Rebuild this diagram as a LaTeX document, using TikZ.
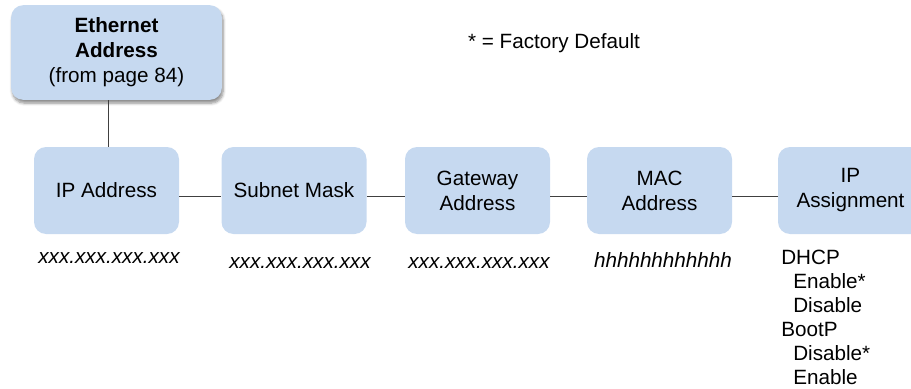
\documentclass[tikz,border=0pt]{standalone}
\usepackage{fontspec}
\setmainfont{Liberation Sans}
\usepackage{tikz}
\usetikzlibrary{shadows,shadows.blur,positioning}
\definecolor{menublue}{RGB}{198,217,240}
\definecolor{linkgray}{RGB}{64,64,64}
\tikzset{
  menubox/.style={rectangle,rounded corners=9pt,fill=menublue,align=center,inner sep=2pt,
                  minimum width=108.75pt,minimum height=65.25pt,font=\fontsize{15.5}{18.75}\selectfont},
  rootbox/.style={menubox,minimum width=158pt,minimum height=71pt,
                  blur shadow={shadow xshift=1pt,shadow yshift=-2.5pt,shadow blur steps=6,shadow opacity=45}},
  vallabel/.style={font=\fontsize{15.5}{18}\selectfont\itshape},
  notelabel/.style={font=\fontsize{15.5}{18}\selectfont},
  optlist/.style={align=left,anchor=north west,inner sep=0pt,font=\fontsize{15.5}{18}\selectfont},
  link/.style={draw=linkgray,line width=0.8pt},
  uplink/.style={draw=linkgray,line width=1.3pt}
}

\begin{document}
\begin{tikzpicture}[x=0.75pt,y=-0.75pt]
  \useasboundingbox (0,0) rectangle (911,389);

  % top of the menu branch
  \node[rootbox] (ether) at (116.5,52.5)
      {\textbf{Ethernet}\\\textbf{Address}\\(from page 84)};
  \node[notelabel] (note) at (554,43) {* = Factory Default};

  % menu items
  \node[menubox] (ipaddr)  at (106.5,190.5) {IP Address};
  \node[menubox] (subnet)  at (294,190.5)   {Subnet Mask};
  \node[menubox] (gateway) at (477.5,190.5) {Gateway\\Address};
  \node[menubox] (macaddr) at (659.5,190.5) {MAC\\Address};
  \node[menubox] (ipassign) at (850.5,190.5) {IP\\Assignment};

  % values
  \node[vallabel] (ipval)  at (109,258) {xxx.xxx.xxx.xxx};
  \node[vallabel] (subval) at (300,263) {xxx.xxx.xxx.xxx};
  \node[vallabel] (gwval)  at (479,263) {xxx.xxx.xxx.xxx};
  \node[vallabel] (macval) at (663,260) {hhhhhhhhhhhh};
  \node[optlist] (assignval) at (781,250)
      {DHCP\\\hspace{9pt}Enable*\\\hspace{9pt}Disable\\BootP\\\hspace{9pt}Disable*\\\hspace{9pt}Enable};

  % connectors
  \draw[uplink] ([xshift=1.5pt]ipaddr.north) -- ([xshift=1.5pt]ipaddr.north |- ether.south);
  \draw[link] ([yshift=-4.5pt]ipaddr.east)  -- ([yshift=-4.5pt]subnet.west);
  \draw[link] ([yshift=-4.5pt]subnet.east)  -- ([yshift=-4.5pt]gateway.west);
  \draw[link] ([yshift=-4.5pt]gateway.east) -- ([yshift=-4.5pt]macaddr.west);
  \draw[link] ([yshift=-4.5pt]macaddr.east) -- ([yshift=-4.5pt]ipassign.west);
\end{tikzpicture}
\end{document}
